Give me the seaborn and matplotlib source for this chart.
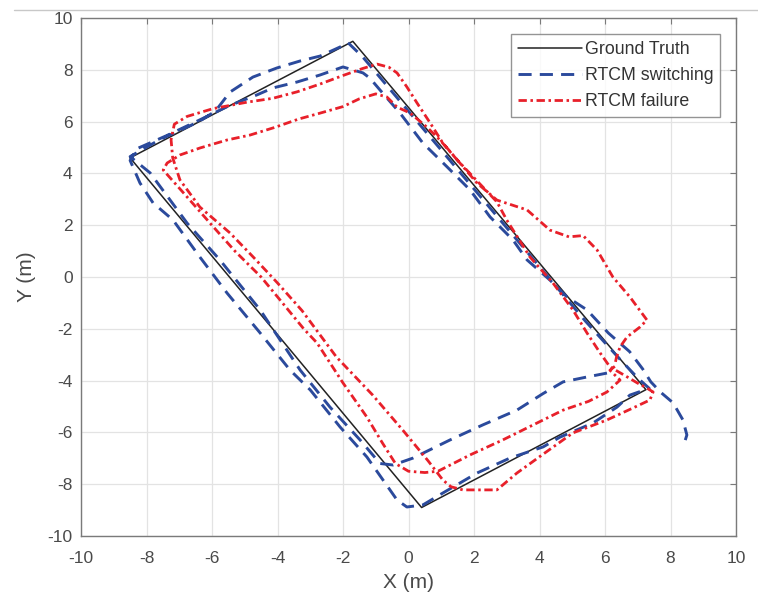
import matplotlib
matplotlib.use("Agg")
import matplotlib.pyplot as plt
from matplotlib.lines import Line2D
import numpy as np
import pandas as pd
import seaborn as sns

# Reference rectangle (closed loop)
gt_x = [-8.5, -1.7, 7.25, 0.4, -8.5]
gt_y = [4.6, 9.1, -4.35, -8.9, 4.6]

# RTCM switching trajectory
switch_x = [6.06, 5.45, 4.72, 4.11, 3.31, 2.27, 1.27, 0.14, -0.47, -0.87,
            -1.48, -2.40, -3.31, -4.53, -5.76, -6.76, -7.89, -8.5,
            -7.6, -6.4, -5.9, -5.45, -4.75, -4.02, -3.31, -2.70, -2.09, -1.85,
            -1.4, -0.6, 0.4, 1.4, 2.4, 3.4, 4.4, 5.4, 6.4, 7.0, 7.35,
            6.76, 6.37, 5.63, 4.63, 4.11, 3.10, 2.09, 1.05, 0.44, -0.05, -0.35,
            -1.27, -2.09, -3.0, -3.62, -4.53, -5.54, -6.37, -7.19, -7.8, -8.2, -8.5,
            -8.3, -7.4, -6.4, -5.5, -4.63, -4.14, -3.40, -2.70, -2.0, -1.39, -1.18,
            -0.87, -0.26, 0.44, 1.18, 1.88, 2.49, 3.19, 3.62, 4.32, 4.84, 5.45,
            6.1, 6.75, 7.15, 7.4, 7.7, 8.08, 8.38, 8.5, 8.45]
switch_y = [-3.71, -3.86, -4.05, -4.5, -5.14, -5.71, -6.29, -6.99, -7.26, -7.2,
            -6.29, -5.02, -3.59, -1.27, 0.66, 2.08, 4.02, 4.65,
            5.3, 6.0, 6.4, 7.14, 7.72, 8.07, 8.34, 8.53, 8.88, 9.05,
            8.5, 7.3, 5.8, 4.3, 2.8, 1.3, -0.2, -1.7, -3.1, -3.9, -4.3,
            -4.56, -5.02, -5.64, -6.18, -6.56, -6.99, -7.57, -8.34, -8.8, -8.88, -8.61,
            -6.95, -5.79, -4.36, -3.59, -2.16, -0.62, 0.77, 2.2, 2.86, 3.63, 4.5,
            4.95, 5.45, 6.05, 6.6, 7.03, 7.30, 7.53, 7.80, 8.11, 7.88, 7.68,
            7.22, 6.33, 5.17, 4.25, 3.36, 2.32, 1.43, 0.66, -0.12, -0.77, -1.27,
            -2.16, -2.88, -3.55, -4.05, -4.45, -4.86, -5.52, -6.1, -6.3]

# RTCM failure trajectory
fail_x = [6.3, 6.15, 6.46, 6.06, 5.5, 4.72, 3.92, 2.88, 1.88, 0.9, 0.5, 0.0,
          -0.4, -0.8, -1.27, -2.0, -2.79, -3.2, -3.92, -4.5, -5.3, -6.06,
          -6.76, -7.49, -7.37, -6.98, -6.37, -5.54, -4.84, -4.1, -3.35, -2.72,
          -2.0, -1.5, -1.0, -0.66, -0.35, 0.05, 0.56, 0.96, 1.5, 2.1, 2.7, 3.0,
          3.71, 4.41, 5.02, 5.45, 5.85, 6.15, 6.6, 7.0, 7.28, 7.47, 7.37, 6.85,
          6.06, 5.02, 4.1, 3.31, 2.7, 1.66, 1.3, 1.05, 0.6, -0.15, -1.1, -2.2,
          -3.25, -4.0, -4.74, -5.45, -6.37, -6.98, -7.2, -7.25, -7.15, -6.76,
          -5.97, -4.93, -4.14, -3.4, -2.7, -2.0, -1.4, -0.96, -0.6, -0.35,
          -0.05, 0.26, 0.66, 1.05, 1.57, 2.09, 2.7, 3.62, 4.32, 4.9, 5.33,
          5.76, 6.24, 6.76, 7.28, 7.07, 6.67, 6.46, 6.35, 6.3]
fail_y = [-3.45, -3.6, -3.98, -4.44, -4.8, -5.14, -5.64, -6.29, -6.87, -7.5,
          -7.55, -7.5, -7.2, -6.4, -5.41, -4.09, -2.55, -2.0, -0.89, 0.0, 1.0,
          2.08, 3.09, 4.13, 4.40, 4.71, 4.98, 5.29, 5.48, 5.77, 6.1, 6.32,
          6.58, 6.88, 7.07, 6.95, 6.56, 6.33, 5.79, 5.29, 4.5, 3.7, 2.9, 2.2,
          0.77, -0.23, -1.27, -2.16, -2.93, -3.47, -3.8, -4.1, -4.29, -4.44,
          -4.75, -5.06, -5.52, -6.02, -6.85, -7.57, -8.22, -8.22, -8.1, -7.84,
          -7.1, -5.95, -4.55, -3.09, -1.3, -0.23, 0.77, 1.7, 2.7, 3.75, 4.6,
          5.3, 5.9, 6.2, 6.5, 6.75, 6.9, 7.15, 7.45, 7.78, 8.05, 8.22, 8.1,
          7.88, 7.34, 6.72, 5.95, 5.17, 4.4, 3.63, 2.97, 2.59, 1.81, 1.55,
          1.6, 1.04, 0.0, -0.77, -1.66, -1.93, -2.32, -2.7, -3.1, -3.4]

series_labels = ["Ground Truth", "RTCM switching", "RTCM failure"]
tick_values = list(range(-10, 11, 2))

sns.set_style("white")
plt.rcParams["font.family"] = ["Liberation Sans", "DejaVu Sans"]
plt.rcParams["axes.unicode_minus"] = False

fig = plt.figure(figsize=(7.58, 6.0), dpi=100)
ax = fig.add_axes([81 / 758, 1 - 536 / 600, (736 - 81) / 758, (536 - 18) / 600])

gt_df = pd.DataFrame({"x": gt_x, "y": gt_y})
sw_df = pd.DataFrame({"x": switch_x, "y": switch_y})
fl_df = pd.DataFrame({"x": fail_x, "y": fail_y})

sns.lineplot(data=gt_df, x="x", y="y", sort=False, estimator=None, ax=ax,
             color="#222222", linewidth=1.1, label=series_labels[0])
sns.lineplot(data=sw_df, x="x", y="y", sort=False, estimator=None, ax=ax,
             color="#2b4a9c", linewidth=2.1, linestyle=(0, (4.5, 2.8)),
             label=series_labels[1])
sns.lineplot(data=fl_df, x="x", y="y", sort=False, estimator=None, ax=ax,
             color="#e8202a", linewidth=2.0, linestyle=(0, (3.0, 1.3, 0.9, 1.3)),
             label=series_labels[2])

ax.set_xlim(-10, 10)
ax.set_ylim(-10, 10)
ax.set_xticks(tick_values)
ax.set_yticks(tick_values)
ax.grid(True, color="#e3e3e3", linewidth=0.9)
ax.set_axisbelow(True)
for sp in ax.spines.values():
    sp.set_visible(True)
    sp.set_color("#7a7a7a")
    sp.set_linewidth(1.0)
ax.tick_params(direction="in", length=4, width=0.8, colors="#7a7a7a",
               labelcolor="#4a4a4a", labelsize=12.5, top=True, right=True)
ax.tick_params(axis="x", pad=11)
ax.tick_params(axis="y", pad=6)
ax.set_xlabel("X (m)", fontsize=15, color="#4a4a4a", labelpad=5)
ax.set_ylabel("Y (m)", fontsize=15, color="#4a4a4a", labelpad=8)

leg = ax.legend(loc="upper right", bbox_to_anchor=(0.976, 0.969),
                fontsize=12.8, frameon=True, fancybox=False, handlelength=3.6,
                handletextpad=0.15, borderpad=0.4, labelspacing=0.5,
                borderaxespad=0.0)
leg.get_frame().set_edgecolor("#7a7a7a")
leg.get_frame().set_linewidth(1.0)
for t in leg.get_texts():
    t.set_color("#333333")

fig.add_artist(Line2D([14 / 758, 1.0], [1 - 10 / 600, 1 - 10 / 600],
                      color="#c8c8c8", linewidth=1.0))

fig.savefig("out.png", dpi=100)
